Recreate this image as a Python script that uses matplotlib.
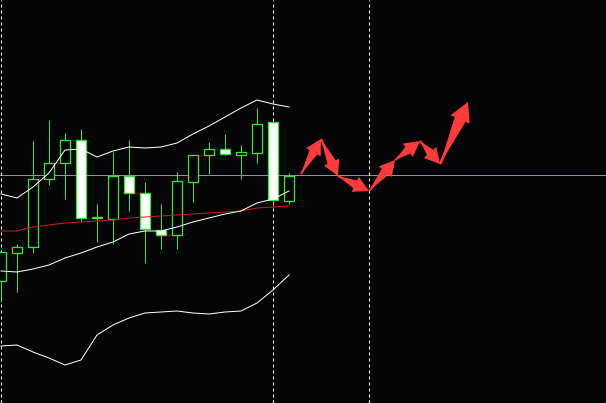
import numpy as np
import matplotlib
matplotlib.use('Agg')
import matplotlib.pyplot as plt
from matplotlib.patches import FancyArrowPatch, ArrowStyle

# ------------------------------------------------------------------------------
# price bars (open, high, low, close), one per bar index
opens  = [122, 150, 156, 224, 240, 263, 185, 184, 227, 210,
          173, 168, 221, 248, 254, 248, 250, 281, 202]
highs  = [151, 159, 262, 283, 270, 274, 199, 251, 263, 221,
          199, 231, 248, 261, 269, 258, 295, 281, 230]
lows   = [101, 111, 150, 218, 204, 181, 161, 159, 192, 140,
          154, 154, 201, 229, 248, 224, 240, 196, 199]
closes = [151, 156, 224, 240, 263, 185, 185, 227, 210, 174,
          168, 222, 248, 254, 249, 251, 279, 203, 227]

# bollinger bands and slow moving average
bb_upper = [209, 205, 216, 230, 253, 254, 246, 252, 256, 255,
            256, 260, 269, 277, 286, 295, 303, 299, 296]
bb_mid   = [132, 131, 134, 138, 145, 150, 156, 161, 169, 172,
            172, 176, 181, 185, 189, 192, 200, 204, 212]
bb_lower = [57, 58, 51, 45, 38, 43, 68, 78, 85, 90,
            91, 92, 90, 89, 91, 92, 100, 113, 128]
slow_ma  = [172, 172, 176, 178, 180, 181, 182, 183, 185, 186,
            187, 188, 189, 190, 191, 192, 195, 196, 197]

# forecast path drawn as chained arrows (bar index, price)
path_x = [18.75, 20.0, 21.06, 23.0, 24.63, 26.19, 27.44, 29.19]
path_y = [229, 264, 227, 212, 243, 262, 239, 301]

# period separators and horizontal level
separators = [0, 17, 23]
level = 228

BG = '#050505'
GREEN = '#33e633'
RED_ARROW = '#ff3b3b'
PX = 0.72  # one pixel in points at 100 dpi


# ------------------------------------------------------------------------------
def draw_candles(ax):
    idx = np.arange(len(opens))
    o = np.array(opens, dtype=float)
    c = np.array(closes, dtype=float)
    ax.vlines(idx, lows, highs, color=GREEN, lw=PX, zorder=3)
    bottoms = np.minimum(o, c)
    heights = np.maximum(np.abs(c - o), 1.0)
    faces = ['white' if cl < op else 'black' for op, cl in zip(o, c)]
    ax.bar(idx, heights, bottom=bottoms, width=0.62, color=faces,
           edgecolor=GREEN, linewidth=PX * 1.3, zorder=4)


# ------------------------------------------------------------------------------
def draw_arrow(ax, p0, p1, scale=1.0):
    head = FancyArrowPatch(p0, p1,
                           arrowstyle=ArrowStyle.Simple(head_length=1.1,
                                                        head_width=1.2,
                                                        tail_width=0.15),
                           mutation_scale=10 * scale, color=RED_ARROW,
                           shrinkA=0, shrinkB=0, lw=0, zorder=6)
    shaft = FancyArrowPatch(p1, p0,
                            arrowstyle=ArrowStyle.Wedge(tail_width=0.75,
                                                        shrink_factor=0.5),
                            mutation_scale=10 * scale, color=RED_ARROW,
                            shrinkA=8 * scale, shrinkB=0, lw=0, zorder=6)
    ax.add_patch(head)
    ax.add_patch(shaft)


# ------------------------------------------------------------------------------
def make_chart(out_file_name):
    fig = plt.figure(figsize=(6.06, 4.03), dpi=100, facecolor=BG)
    ax = fig.add_axes([0, 0, 1, 1])
    ax.set_facecolor(BG)
    ax.set_axis_off()
    ax.set_xlim(-1 / 16., 605 / 16.)
    ax.set_ylim(0, 403)

    # horizontal level and period separators
    ax.axhline(level, color='#8e8ea4', lw=PX, zorder=1)
    for sx in separators:
        ax.axvline(sx, color='white', lw=PX, dashes=(3, 3), zorder=2)

    draw_candles(ax)

    idx = np.arange(len(bb_mid))
    ax.plot(idx, slow_ma, color='#c81e1e', lw=PX, zorder=5)
    for band in (bb_upper, bb_mid, bb_lower):
        ax.plot(idx, band, color='white', lw=PX, zorder=5)

    # forecast arrows
    n = len(path_x) - 1
    for k in range(n):
        scale = 1.25 if k == n - 1 else 1.0
        draw_arrow(ax, (path_x[k], path_y[k]),
                   (path_x[k + 1], path_y[k + 1]), scale)

    plt.savefig(out_file_name, dpi=100, facecolor=BG)


# ==============================================================================
if __name__ == "__main__":
    make_chart('out.png')
